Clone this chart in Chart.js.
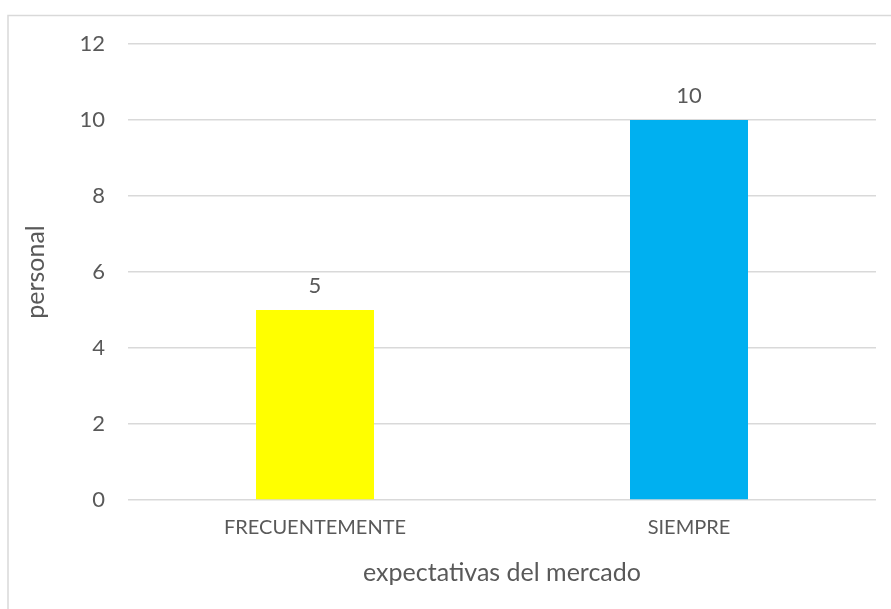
<!DOCTYPE html>
<html>
<head>
<meta charset="utf-8">
<script src="https://cdn.jsdelivr.net/npm/chart.js@4/dist/chart.umd.min.js"></script>
<style>
  html, body { margin: 0; padding: 0; background: #fff; }
  #wrap { width: 891px; height: 609px; position: relative; }
</style>
</head>
<body>
<div id="wrap"><canvas id="c"></canvas></div>
<script>
const categories = ['FRECUENTEMENTE', 'SIEMPRE'];
const values = [5, 10];
const barColors = ['#FFFF00', '#00B0F0'];
const yTicks = [0, 2, 4, 6, 8, 10, 12];

const textColor = '#595959';
const fontFamily = 'Lato, "Open Sans", sans-serif';

// marco gris del área del gráfico
const frame = {
    id: 'frame',
    beforeDraw(chart) {
        const ctx = chart.ctx;
        ctx.save();
        ctx.fillStyle = '#fff';
        ctx.fillRect(0, 0, chart.width, chart.height);
        ctx.strokeStyle = '#d9d9d9';
        ctx.lineWidth = 1.5;
        ctx.strokeRect(8, 15.5, chart.width + 20, chart.height + 20);
        ctx.restore();
    }
};

// etiquetas de datos sobre las barras
const dataLabels = {
    id: 'dataLabels',
    afterDatasetsDraw(chart) {
        const ctx = chart.ctx;
        ctx.save();
        ctx.fillStyle = textColor;
        ctx.font = '22px ' + fontFamily;
        ctx.textAlign = 'center';
        ctx.textBaseline = 'alphabetic';
        chart.getDatasetMeta(0).data.forEach((bar, i) => {
            ctx.fillText(String(values[i]), bar.x, bar.y - 17);
        });
        ctx.restore();
    }
};

new Chart(document.getElementById('c'), {
    type: 'bar',
    data: {
        labels: categories,
        datasets: [{
            data: values,
            backgroundColor: barColors,
            borderWidth: 0,
            barPercentage: 1,
            categoryPercentage: 0.3155
        }]
    },
    options: {
        responsive: true,
        maintainAspectRatio: false,
        animation: false,
        layout: { padding: { left: 0, top: 44, right: 15, bottom: 0 } },
        plugins: {
            legend: { display: false },
            tooltip: { enabled: false }
        },
        scales: {
            x: {
                grid: { display: false, drawTicks: false },
                border: { display: false },
                ticks: { color: textColor, font: { family: fontFamily, size: 20 }, padding: 16, maxRotation: 0 },
                title: {
                    display: true,
                    text: 'expectativas del mercado',
                    color: textColor,
                    font: { family: fontFamily, size: 25 },
                    padding: { top: 0, bottom: 21 }
                },
                afterFit: s => { s.height = 109; }
            },
            y: {
                min: 0,
                max: 12,
                afterBuildTicks: s => { s.ticks = yTicks.map(v => ({ value: v })); },
                grid: { color: '#d9d9d9', lineWidth: 1.5, drawTicks: false },
                border: { display: false },
                ticks: { color: textColor, font: { family: fontFamily, size: 22 }, padding: 23 },
                title: {
                    display: true,
                    text: 'personal',
                    color: textColor,
                    font: { family: fontFamily, size: 25 },
                    padding: { top: 21, bottom: 0 }
                },
                afterFit: s => { s.width = 128; }
            }
        }
    },
    plugins: [frame, dataLabels]
});
</script>
</body>
</html>
